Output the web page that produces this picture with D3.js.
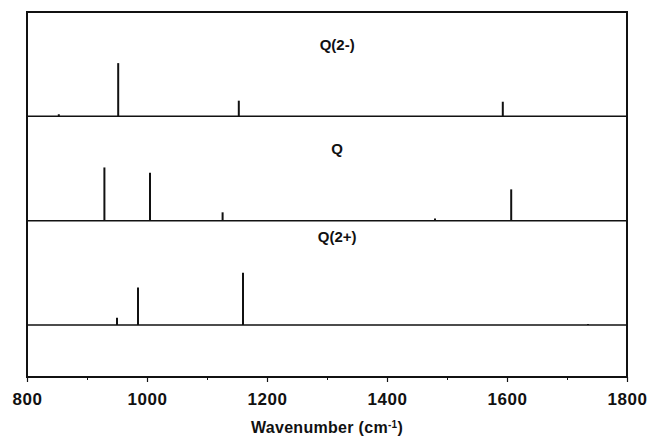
<!DOCTYPE html>
<html>
<head>
<meta charset="utf-8">
<script src="https://cdn.jsdelivr.net/npm/d3@7"></script>
<style>
  body { margin: 0; background: #fff; }
  text { font-family: "Liberation Sans", Arial, sans-serif; font-weight: bold; fill: #111; }
</style>
</head>
<body>
<div id="chart"></div>
<script>
// spectra, one array per species: [wavenumber, relative intensity]
var species = ["Q(2-)", "Q", "Q(2+)"];
var peaksDianion = [[853, 2], [952, 51], [1153, 15], [1593, 14]];
var peaksNeutral = [[929, 51], [1005, 46], [1126, 8], [1480, 2], [1607, 30]];
var peaksDication = [[950, 7], [985, 36], [1160, 50], [1735, 1]];
var xTicks = [800, 1000, 1200, 1400, 1600, 1800];
var xMinorTicks = [900, 1100, 1300, 1500, 1700];

var allPeaks = [peaksDianion, peaksNeutral, peaksDication];

var margin = {top: 12, right: 21, bottom: 62, left: 27},
    width = 648 - margin.left - margin.right,
    height = 439 - margin.top - margin.bottom;

var svg = d3.select("#chart")
  .append("svg")
    .attr("width", 648)
    .attr("height", 439)
  .append("g")
    .attr("transform", "translate(" + margin.left + "," + margin.top + ")");

var x = d3.scaleLinear()
    .domain([800, 1800])
    .range([0, width]);

// three stacked panels, the last strip under Q(2+) stays empty
var y = d3.scaleBand()
    .domain(species)
    .range([0, 313]);

var inten = d3.scaleLinear()
    .domain([0, 100])
    .range([0, y.bandwidth()]);

// frame
svg.append("rect")
    .attr("x", 0).attr("y", 0)
    .attr("width", width).attr("height", height)
    .style("fill", "none")
    .style("stroke", "#111")
    .style("stroke-width", 2);

// x axis
svg.append("g")
    .attr("transform", "translate(0," + height + ")")
    .call(d3.axisBottom(x).tickValues(xTicks).tickSize(5).tickFormat(d3.format("d")))
    .call(function(g){
        g.select(".domain").remove();
        g.selectAll("line").style("stroke", "#111").style("stroke-width", 1.2);
        g.selectAll("text")
          .attr("dy", "1.15em")
          .style("font-size", "17px")
          .style("font-family", "Liberation Sans, Arial")
          .style("font-weight", "bold")
          .style("letter-spacing", "0.5px")
          .style("fill", "#111");
    });

svg.append("g")
    .attr("transform", "translate(0," + height + ")")
    .call(d3.axisBottom(x).tickValues(xMinorTicks).tickSize(3).tickFormat(""))
    .call(function(g){
        g.select(".domain").remove();
        g.selectAll("line").style("stroke", "#111").style("stroke-width", 1);
    });

var title = svg.append("text")
    .attr("x", width / 2)
    .attr("y", height + 56)
    .attr("text-anchor", "middle")
    .style("font-size", "16px")
    .style("letter-spacing", "0.3px");
title.append("tspan").text("Wavenumber (cm");
title.append("tspan").attr("dy", -5).style("font-size", "10px").text("-1");
title.append("tspan").attr("dy", 5).text(")");

// panels
var labelOffset = [33, 32, 16];

species.forEach(function(name, i){
    var base = y(name) + y.bandwidth();

    svg.append("line")
        .attr("x1", 0).attr("x2", width)
        .attr("y1", base).attr("y2", base)
        .style("stroke", "#111")
        .style("stroke-width", 1.5);

    svg.selectAll(".stick" + i)
        .data(allPeaks[i])
        .enter().append("line")
        .attr("class", "stick" + i)
        .attr("x1", function(d){ return x(d[0]); })
        .attr("x2", function(d){ return x(d[0]); })
        .attr("y1", base)
        .attr("y2", function(d){ return base - inten(d[1]); })
        .style("stroke", "#111")
        .style("stroke-width", 2);

    svg.append("text")
        .attr("x", x(1317))
        .attr("y", y(name) + labelOffset[i])
        .attr("dy", "0.35em")
        .attr("text-anchor", "middle")
        .style("font-size", "15px")
        .text(name);
});
</script>
</body>
</html>
